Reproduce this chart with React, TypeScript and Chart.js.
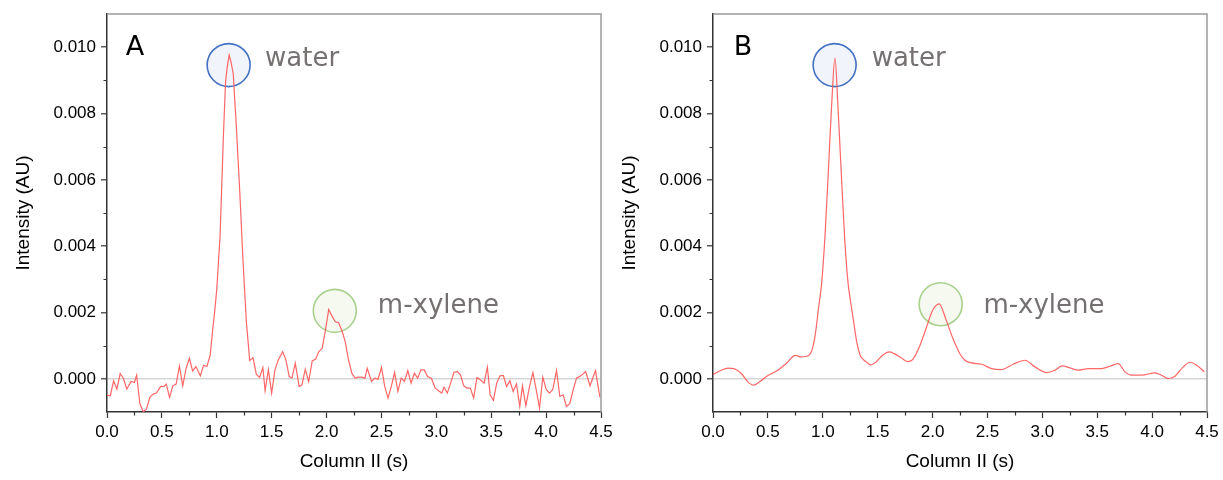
import React, { useEffect, useRef } from 'react';
import { Chart, registerables } from 'chart.js';

Chart.register(...registerables);

// ---------- data ----------
const timeA = [
  0.0, 0.03, 0.06, 0.09, 0.12, 0.15, 0.18, 0.22, 0.25, 0.27, 0.3, 0.33, 0.36, 0.39, 0.42, 0.45, 0.49, 0.52, 0.54,
  0.57, 0.6, 0.63, 0.66, 0.69, 0.72, 0.75, 0.78, 0.81, 0.85, 0.88, 0.91, 0.94, 0.96, 0.98, 1.0, 1.03, 1.06, 1.08,
  1.095, 1.113, 1.13, 1.15, 1.18, 1.21, 1.24, 1.27, 1.3, 1.33, 1.36, 1.39, 1.42, 1.44, 1.47, 1.5, 1.53, 1.56, 1.6,
  1.63, 1.66, 1.685, 1.715, 1.75, 1.776, 1.806, 1.837, 1.87, 1.9, 1.93, 1.96, 1.99, 2.02, 2.05, 2.08, 2.11, 2.14,
  2.17, 2.2, 2.23, 2.26, 2.29, 2.32, 2.35, 2.37, 2.41, 2.44, 2.47, 2.5, 2.53, 2.56, 2.59, 2.62, 2.65, 2.68, 2.71,
  2.74, 2.77, 2.8, 2.83, 2.86, 2.89, 2.92, 2.955, 2.99, 3.03, 3.05, 3.07, 3.1, 3.13, 3.16, 3.19, 3.22, 3.25, 3.28,
  3.31, 3.34, 3.37, 3.4, 3.435, 3.465, 3.49, 3.52, 3.55, 3.58, 3.61, 3.64, 3.67, 3.7, 3.73, 3.76, 3.785, 3.815,
  3.85, 3.88, 3.91, 3.94, 3.97, 4.0, 4.03, 4.06, 4.095, 4.125, 4.155, 4.185, 4.215, 4.247, 4.277, 4.316, 4.36,
  4.4, 4.43, 4.45, 4.49,
];
const intensityA = [
  -0.00049, -0.00051, -0.00006, -0.00031, 0.00016, 0.00001, -0.00031, -0.00008, -0.00011, 0.00011, -0.00076,
  -0.00099, -0.00091, -0.00056, -0.00046, -0.00043, -0.00023, -0.00023, -0.00016, -0.00056, -0.00021, -0.00016,
  0.00039, -0.00021, 0.00031, 0.00062, 0.00024, 0.00037, 0.00009, 0.00041, 0.00037, 0.00071, 0.0014, 0.002,
  0.0027, 0.0043, 0.0073, 0.00895, 0.0094, 0.00976, 0.00955, 0.0092, 0.0075, 0.0056, 0.0035, 0.0017, 0.00055,
  0.00064, 0.00014, 0.00004, 0.00034, -0.00036, 0.00027, -0.00043, 0.00027, 0.00057, 0.00082, 0.00057, 0.00007,
  0.00002, 0.00047, -0.00023, -0.00018, 0.00029, -0.00008, 0.00055, 0.00059, 0.00082, 0.00092, 0.00147, 0.00209,
  0.00189, 0.00172, 0.00169, 0.00145, 0.00112, 0.00057, 0.00017, 0.00002, 0.00005, 0.00005, 0.00002, 0.00032,
  -0.00008, 0.00002, -0.00001, 0.00035, -0.00023, -0.00058, -0.00023, 0.00019, -0.00038, 0.00002, -0.00008,
  0.00025, -0.00013, 0.00017, 0.00002, 0.00027, 0.00027, 0.00007, 0.00002, -0.00028, -0.00038, -0.00043,
  -0.00025, -0.00043, -0.00013, 0.00019, 0.00022, 0.00012, -0.00021, -0.00028, -0.00028, -0.00058, 0.00004,
  -0.00003, -0.00013, 0.00035, -0.00048, -0.00065, -0.00013, 0.00009, 0.0001, -0.00023, -0.00006, -0.00038,
  -0.00015, -0.00083, -0.00021, -0.00081, -0.00021, 0.00019, -0.00033, -0.00088, 0.00005, -0.00031, -0.00043,
  -0.00033, 0.00025, -0.00053, -0.00048, -0.00083, -0.00075, -0.00033, 0.00002, 0.00009, 0.00022, -0.00021,
  0.00007, 0.00025, -0.00055,
];

const timeB = [
  0.0, 0.076, 0.136, 0.197, 0.258, 0.318, 0.37, 0.424, 0.5, 0.59, 0.667, 0.748, 0.803, 0.85, 0.87, 0.9, 0.93,
  0.96, 0.99, 1.02, 1.05, 1.08, 1.111, 1.14, 1.17, 1.2, 1.23, 1.25, 1.28, 1.31, 1.34, 1.37, 1.4, 1.44, 1.485,
  1.545, 1.606, 1.65, 1.712, 1.773, 1.818, 1.879, 1.94, 2.0, 2.06, 2.12, 2.18, 2.22, 2.25, 2.295, 2.355, 2.447,
  2.538, 2.63, 2.735, 2.842, 2.933, 3.04, 3.115, 3.182, 3.252, 3.328, 3.419, 3.54, 3.616, 3.692, 3.753, 3.813,
  3.905, 4.026, 4.087, 4.148, 4.208, 4.284, 4.345, 4.406, 4.476,
];
const intensityB = [
  0.00013, 0.00026, 0.00032, 0.0003, 0.00016, -0.00009, -0.00019, -0.00009, 0.0001, 0.00026, 0.00046, 0.00071,
  0.00066, 0.00068, 0.0007, 0.00085, 0.0013, 0.0021, 0.0029, 0.0043, 0.0062, 0.0082, 0.00967, 0.0081, 0.0061,
  0.0042, 0.0029, 0.0024, 0.00175, 0.0011, 0.00072, 0.00058, 0.0005, 0.00042, 0.00051, 0.00071, 0.00081,
  0.00076, 0.00064, 0.00052, 0.00058, 0.00096, 0.00151, 0.00206, 0.00226, 0.00181, 0.00126, 0.00095, 0.00075,
  0.00056, 0.00048, 0.00044, 0.00031, 0.00028, 0.00044, 0.00056, 0.00036, 0.00019, 0.00026, 0.00039, 0.00033,
  0.00026, 0.00031, 0.00031, 0.00038, 0.00046, 0.00021, 0.00011, 0.00011, 0.00018, 0.00011, 0.00001, 0.00008,
  0.00036, 0.0005, 0.00041, 0.00021,
];

const xAxisTicks = [0, 0.5, 1.0, 1.5, 2.0, 2.5, 3.0, 3.5, 4.0, 4.5];
const xMinorTicks = [0.25, 0.75, 1.25, 1.75, 2.25, 2.75, 3.25, 3.75, 4.25];
const yAxisTicks = [0, 0.002, 0.004, 0.006, 0.008, 0.01];
const yMinorTicks = [0.001, 0.003, 0.005, 0.007, 0.009];

const panelNames = ['A', 'B'];
const peakNames = ['water', 'm-xylene'];
// circle centres [x, y] (data units)
const circlesA = [[1.108, 0.00946], [2.075, 0.00205]];
const circlesB = [[1.108, 0.00946], [2.074, 0.00225]];
// peak label positions [x, baseline y]
const peakLabelsA = [[1.44, 0.00944], [2.467, 0.002]];
const peakLabelsB = [[1.445, 0.00944], [2.463, 0.002]];
const panelLabelPosA = [0.17, 0.00977];
const panelLabelPosB = [0.19, 0.00977];

// ---------- styles ----------
const CIRCLE_STYLES = [
  { stroke: '#4472C4', fill: 'rgba(225,231,245,0.45)' },
  { stroke: '#A9D18E', fill: 'rgba(232,242,222,0.45)' },
];
const TICK_FONT = { family: '"Liberation Sans", Arial, sans-serif', size: 17 };
const TITLE_FONT = { family: '"Liberation Sans", Arial, sans-serif', size: 19 };

type PanelProps = {
  times: number[];
  values: number[];
  left: number;
  name: string;
  namePos: number[];
  circles: number[][];
  peakLabels: number[][];
  smooth: boolean;
};

function Panel(props: PanelProps) {
  const ref = useRef<HTMLCanvasElement | null>(null);
  useEffect(() => {
    const canvas = ref.current;
    if (!canvas) return;
    const { times, values, name, namePos, circles, peakLabels, smooth } = props;

    const decor = {
      id: 'decor',
      beforeDatasetsDraw(chart: any) {
        const { ctx } = chart;
        const xs = chart.scales.x;
        const ys = chart.scales.y;
        circles.forEach((c, i) => {
          const st = CIRCLE_STYLES[i];
          ctx.save();
          ctx.beginPath();
          ctx.arc(xs.getPixelForValue(c[0]), ys.getPixelForValue(c[1]), 21.5, 0, Math.PI * 2);
          ctx.fillStyle = st.fill;
          ctx.fill();
          ctx.lineWidth = 1.6;
          ctx.strokeStyle = st.stroke;
          ctx.stroke();
          ctx.restore();
        });
      },
      afterDraw(chart: any) {
        const { ctx, chartArea } = chart;
        const xs = chart.scales.x;
        const ys = chart.scales.y;
        ctx.save();
        // top / right frame
        ctx.strokeStyle = '#9a9a9a';
        ctx.lineWidth = 1.5;
        ctx.beginPath();
        ctx.moveTo(chartArea.left, chartArea.top);
        ctx.lineTo(chartArea.right, chartArea.top);
        ctx.lineTo(chartArea.right, chartArea.bottom);
        ctx.stroke();
        // minor ticks
        ctx.strokeStyle = '#333';
        ctx.lineWidth = 1.2;
        ctx.beginPath();
        xMinorTicks.forEach((v) => {
          const px = Math.round(xs.getPixelForValue(v)) + 0.5;
          ctx.moveTo(px, chartArea.bottom);
          ctx.lineTo(px, chartArea.bottom + 3.5);
        });
        yMinorTicks.forEach((v) => {
          const py = Math.round(ys.getPixelForValue(v)) + 0.5;
          ctx.moveTo(chartArea.left, py);
          ctx.lineTo(chartArea.left - 3.5, py);
        });
        ctx.stroke();
        // peak labels
        ctx.fillStyle = '#757171';
        ctx.font = '26px "DejaVu Sans", sans-serif';
        ctx.textBaseline = 'alphabetic';
        ctx.textAlign = 'left';
        peakLabels.forEach((p, i) => {
          ctx.fillText(peakNames[i], xs.getPixelForValue(p[0]), ys.getPixelForValue(p[1]));
        });
        // panel letter
        ctx.fillStyle = '#000';
        ctx.font = '27px "DejaVu Sans", sans-serif';
        ctx.fillText(name, xs.getPixelForValue(namePos[0]), ys.getPixelForValue(namePos[1]));
        ctx.restore();
      },
    };

    const chart = new Chart(canvas, {
      type: 'line',
      data: {
        datasets: [
          {
            data: times.map((t, i) => ({ x: t, y: values[i] })),
            borderColor: 'rgba(255,85,85,0.9)',
            borderWidth: 1.2,
            pointRadius: 0,
            fill: false,
            tension: smooth ? 0.4 : 0,
            cubicInterpolationMode: smooth ? 'monotone' : 'default',
          },
        ],
      },
      options: {
        animation: false,
        responsive: false,
        maintainAspectRatio: false,
        devicePixelRatio: 1,
        layout: { padding: { left: 8, top: 14, right: 11, bottom: 0 } },
        plugins: { legend: { display: false }, tooltip: { enabled: false } },
        scales: {
          x: {
            type: 'linear',
            min: 0,
            max: 4.5,
            afterBuildTicks: (s: any) => {
              s.ticks = xAxisTicks.map((v) => ({ value: v }));
            },
            afterFit: (s: any) => {
              s.height = 68;
              s.paddingLeft = 0;
              s.paddingRight = 0;
            },
            ticks: {
              autoSkip: false,
              maxRotation: 0,
              padding: 4,
              color: '#000',
              font: TICK_FONT,
              callback: (v: any) => Number(v).toFixed(1),
            },
            grid: { drawOnChartArea: false, tickLength: 6, tickColor: '#333', tickWidth: 1.2 },
            border: { color: '#333', width: 1.5 },
            title: {
              display: true,
              text: 'Column II (s)',
              color: '#000',
              font: TITLE_FONT,
              padding: { top: 0, bottom: 7 },
            },
          },
          y: {
            type: 'linear',
            min: -0.001,
            max: 0.011,
            afterBuildTicks: (s: any) => {
              s.ticks = yAxisTicks.map((v) => ({ value: v }));
            },
            afterFit: (s: any) => {
              s.width = 99;
              s.paddingTop = 0;
              s.paddingBottom = 0;
            },
            ticks: {
              padding: 5,
              color: '#000',
              font: TICK_FONT,
              callback: (v: any) => Number(v).toFixed(3),
            },
            grid: {
              drawOnChartArea: true,
              color: (c: any) => (c.tick && Math.abs(c.tick.value) < 1e-9 ? '#d6d6d6' : 'rgba(0,0,0,0)'),
              lineWidth: 1.6,
              tickLength: 6,
              tickColor: '#333',
              tickWidth: 1.2,
            },
            border: { color: '#333', width: 1.5 },
            title: {
              display: true,
              text: 'Intensity (AU)',
              color: '#000',
              font: TITLE_FONT,
              padding: { top: 4, bottom: 0 },
            },
          },
        },
      },
      plugins: [decor],
    } as any);
    return () => chart.destroy();
  }, []);

  return (
    <canvas
      ref={ref}
      width={612}
      height={480}
      style={{ position: 'absolute', left: props.left, top: 0, width: 612, height: 480 }}
    />
  );
}

export default function App() {
  return (
    <div style={{ position: 'fixed', left: 0, top: 0, width: 1223, height: 480, background: '#fff' }}>
      <Panel
        times={timeA}
        values={intensityA}
        left={0}
        name={panelNames[0]}
        namePos={panelLabelPosA}
        circles={circlesA}
        peakLabels={peakLabelsA}
        smooth={false}
      />
      <Panel
        times={timeB}
        values={intensityB}
        left={606}
        name={panelNames[1]}
        namePos={panelLabelPosB}
        circles={circlesB}
        peakLabels={peakLabelsB}
        smooth={true}
      />
    </div>
  );
}
